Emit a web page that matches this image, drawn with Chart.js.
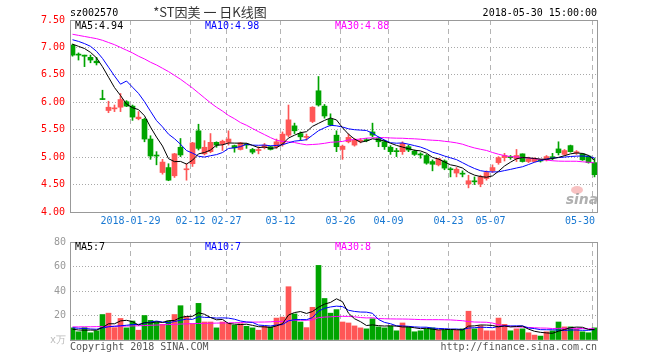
<!DOCTYPE html>
<html><head><meta charset="utf-8">
<script src="https://cdn.jsdelivr.net/npm/chart.js@4.4.1/dist/chart.umd.min.js"></script>
<style>
html,body{margin:0;padding:0;background:#fff;}
#wrap{position:relative;width:660px;height:360px;overflow:hidden;}
.box{position:absolute;left:0;width:660px;}
</style></head><body>
<div id="wrap">
<div class="box" style="top:0;height:232px"><canvas id="c1" width="660" height="232"></canvas></div>
<div class="box" style="top:232px;height:128px"><canvas id="c2" width="660" height="128"></canvas></div>
</div>
<script>
// ---- data ----
const tickIdx = [10,20,26,35,45,53,63,70,87];
const tickLabels = ['2018-01-29','02-12','02-27','03-12','03-26','04-09','04-23','05-07','05-30'];
const priceTicks = [4.0,4.5,5.0,5.5,6.0,6.5,7.0,7.5];
const volTicks = [0,20,40,60,80];

const open = [7.04,6.87,6.86,6.82,6.75,6.06,5.85,5.88,5.91,6.01,
5.93,5.70,5.69,5.33,5.03,4.72,4.81,4.66,5.18,4.77,
4.88,5.48,5.06,5.10,5.27,5.24,5.27,5.21,5.14,5.24,
5.14,5.12,5.18,5.19,5.19,5.24,5.40,5.57,5.43,5.36,
5.65,6.21,5.93,5.69,5.40,5.14,5.28,5.22,5.29,5.31,
5.46,5.34,5.28,5.18,5.11,5.10,5.19,5.11,5.05,5.03,
4.92,4.86,4.93,4.78,4.71,4.70,4.51,4.56,4.51,4.61,
4.75,4.90,4.99,5.01,4.97,5.06,4.92,4.92,4.94,4.95,
5.00,5.15,5.05,5.21,5.08,5.06,5.02,4.90];
const high = [7.06,6.90,6.86,6.86,6.82,6.22,6.02,5.95,6.16,6.03,
5.95,5.83,5.71,5.39,5.10,4.96,4.88,5.07,5.34,4.88,
5.27,5.60,5.30,5.43,5.28,5.31,5.48,5.22,5.27,5.25,
5.16,5.19,5.25,5.20,5.33,5.46,5.95,5.62,5.46,5.42,
5.92,6.47,5.96,5.79,5.48,5.22,5.42,5.34,5.34,5.34,
5.62,5.37,5.31,5.21,5.16,5.28,5.22,5.13,5.08,5.05,
4.95,4.98,4.95,4.81,4.81,4.75,4.67,4.64,4.67,4.75,
4.86,5.01,5.07,5.03,5.14,5.06,5.00,4.99,4.96,5.03,
5.07,5.28,5.14,5.22,5.12,5.07,5.03,4.98];
const low = [6.84,6.77,6.65,6.72,6.68,6.05,5.81,5.83,5.83,5.92,
5.67,5.68,5.28,4.96,4.86,4.69,4.57,4.63,5.01,4.58,
4.83,5.13,5.04,5.08,5.18,5.12,5.22,5.09,5.13,5.16,
5.06,5.06,5.15,5.13,5.16,5.20,5.37,5.43,5.31,5.31,
5.63,5.93,5.71,5.57,5.10,4.96,5.26,5.20,5.26,5.28,
5.37,5.19,5.14,5.05,5.01,5.05,5.10,5.03,4.98,4.87,
4.75,4.84,4.77,4.64,4.64,4.64,4.44,4.50,4.46,4.58,
4.72,4.87,4.93,4.96,4.92,4.91,4.90,4.91,4.91,4.93,
4.95,5.04,5.03,5.09,5.05,4.94,4.89,4.64];
const close = [6.86,6.86,6.84,6.77,6.72,6.05,5.91,5.89,6.05,5.93,
5.73,5.73,5.33,5.02,5.02,4.91,4.58,5.06,5.04,4.78,
5.26,5.16,5.18,5.27,5.22,5.29,5.33,5.17,5.26,5.22,
5.09,5.13,5.22,5.14,5.28,5.42,5.68,5.48,5.37,5.37,
5.91,5.95,5.75,5.59,5.19,5.20,5.36,5.31,5.30,5.30,
5.40,5.28,5.19,5.10,5.10,5.25,5.13,5.05,5.04,4.89,
4.87,4.97,4.80,4.77,4.78,4.69,4.57,4.55,4.64,4.72,
4.81,4.99,5.03,4.99,5.03,4.92,4.97,4.97,4.93,5.01,
4.99,5.08,5.12,5.10,5.09,4.95,4.90,4.68];
const volume = [9.9,6.7,10.1,5.9,7.5,20.8,21.9,10.1,17.6,9.9,
15.5,8.0,20.0,16.0,14.7,12.8,15.5,20.8,28.0,19.2,
13.3,29.9,14.7,14.7,9.9,14.7,13.3,12.0,13.3,11.2,
9.9,8.0,11.2,10.7,17.9,18.7,43.5,21.3,14.7,10.1,
26.7,60.9,33.9,21.9,24.8,14.7,13.9,11.5,9.9,9.1,
17.3,10.7,9.9,11.2,7.5,13.9,10.7,6.7,7.5,9.1,
9.9,8.0,8.0,8.0,8.0,9.1,23.5,9.1,11.7,7.5,
7.5,17.9,12.8,7.5,9.1,9.1,5.9,4.0,3.2,6.7,
7.5,14.7,10.7,10.7,9.1,6.7,5.9,9.9];

// moving-average values at the start of the window (they depend on earlier days)
const ma5Head = [7.06,7.02,6.98,6.91];
const ma10Head = [7.14,7.11,7.07,7.02,6.93,6.80,6.64,6.48,6.33];
const ma30Head = [7.24,7.22,7.20,7.18,7.16,7.13,7.09,7.05,7.00,6.95,6.90,6.84,6.79,6.73,6.68,6.62,6.56,6.49,6.42,6.34,6.26,6.17,6.08,5.99,5.91,5.84,5.76,5.70,5.63];
const vma5Head = [8.8,8.2,8.0,8.1];
const vma10Head = [10.0,9.6,9.4,9.0,8.8,9.8,10.8,11.2,11.6];
const vma30Head = [10.7,10.7,10.8,10.8,10.9,11.0,11.1,11.2,11.3,11.4,11.5,11.6,11.8,12.0,12.2,12.4,12.6,12.8,13.0,13.2,13.4,13.5,13.6,13.7,13.8,13.9,14.0,14.1,14.2];

const priceLegend = ['MA5:4.94','MA10:4.98','MA30:4.88'];
const volLegend = ['MA5:7','MA10:7','MA30:8'];

// ---- helpers ----
function ma(src, n, head){
  return src.map((v,i)=>{
    if(i < n-1) return head[i];
    let s=0; for(let k=i-n+1;k<=i;k++) s+=src[k];
    return s/n;
  });
}
const N = close.length;
const idx = close.map((_,i)=>i);
const RED = '#ff5656', GREEN = '#00a400';
const cols = idx.map(i => close[i] >= open[i] ? RED : GREEN);
const LINE_COLS = ['#000000','#0000ff','#ff00ff'];
const mono = '"DejaVu Sans Mono","Liberation Mono",monospace';
const F10 = '10px ' + mono;

function lineDs(arr, color){
  return {type:'line', data: idx.map(i=>({x:i,y:arr[i]})), borderColor:color, borderWidth:1,
          pointRadius:0, tension:0, fill:false};
}
function txt(ctx, s, x, y, color, align, font){
  ctx.save(); ctx.font = font || F10; ctx.fillStyle = color; ctx.textAlign = align || 'left';
  ctx.textBaseline = 'middle'; ctx.fillText(s, x, y); ctx.restore();
}
function xScaleOpts(){
  return {type:'linear', min:-5/12, max:N-1+5/12, offset:false,
    afterBuildTicks: s => { s.ticks = tickIdx.map(i => ({value: i - 1/3})); },
    ticks:{display:false},
    grid:{color:'#b4b4b4', drawTicks:false, offset:false},
    border:{display:false, dash:[5,4]},
    afterFit: s => { s.height = 20; }};
}
function frame(chart){
  const {ctx, chartArea:a} = chart;
  ctx.save(); ctx.strokeStyle='#999'; ctx.lineWidth=1;
  ctx.strokeRect(a.left+0.5, a.top+0.5, a.right-a.left, a.bottom-a.top);
  ctx.restore();
}

// ---- price chart ----
new Chart(document.getElementById('c1'), {
  type:'bar',
  data:{ datasets:[
    lineDs(ma(close,5,ma5Head), LINE_COLS[0]),
    lineDs(ma(close,10,ma10Head), LINE_COLS[1]),
    lineDs(ma(close,30,ma30Head), LINE_COLS[2]),
    {type:'bar', data: idx.map(i=>({x:i, y:[open[i], close[i]]})), backgroundColor: cols,
     barThickness:5, minBarLength:1, grouped:false},
    {type:'bar', data: idx.map(i=>({x:i, y:[low[i], high[i]]})), backgroundColor: cols,
     barThickness:1, minBarLength:1, grouped:false}
  ]},
  options:{
    responsive:false, animation:false, events:[],
    layout:{padding:{top:20,right:63,left:0,bottom:0}},
    plugins:{legend:{display:false}, tooltip:{enabled:false}},
    scales:{
      x: xScaleOpts(),
      y:{min:4, max:7.5,
        afterBuildTicks: s => { s.ticks = priceTicks.map(v=>({value:v})); },
        ticks:{color:'#ff0000', font:{family:mono, size:10}, padding:5, callback: v => Number(v).toFixed(2)},
        grid:{drawTicks:false, color: c => (c.tick && (c.tick.value===4 || c.tick.value===7.5)) ? 'rgba(0,0,0,0)' : '#a8a8a8'},
        border:{display:false, dash:[1,2]},
        afterFit: s => { s.width = 70; }}
    }
  },
  plugins:[{id:'deco1', afterDraw(chart){
    const {ctx, chartArea:a, scales} = chart;
    frame(chart);
    txt(ctx,'sz002570',a.left,13,'#000');
    txt(ctx,'*ST因美 一 日K线图',210,12,'#333','center','13px "Noto Sans CJK SC", sans-serif');
    txt(ctx,'2018-05-30 15:00:00',a.right,13,'#000','right');
    txt(ctx,priceLegend[0],75,26,LINE_COLS[0]);
    txt(ctx,priceLegend[1],205,26,LINE_COLS[1]);
    txt(ctx,priceLegend[2],335,26,LINE_COLS[2]);
    ctx.save(); ctx.font = F10;
    tickIdx.forEach((ti,k)=>{
      const px = scales.x.getPixelForValue(ti - 1/3);
      const w = ctx.measureText(tickLabels[k]).width;
      const x0 = Math.min(px - w/2, a.right - w - 2);
      txt(ctx, tickLabels[k], x0, 221, '#1878d2');
    });
    ctx.restore();
    // sina watermark
    ctx.save();
    ctx.fillStyle='rgba(240,120,120,0.45)';
    ctx.beginPath(); ctx.ellipse(577,190,6,4,0,0,Math.PI*2); ctx.fill();
    ctx.restore();
    txt(ctx,'sina',582,200,'rgba(150,150,150,0.75)','center','italic bold 14px "DejaVu Sans", sans-serif');
  }}]
});

// ---- volume chart ----
new Chart(document.getElementById('c2'), {
  type:'bar',
  data:{ datasets:[
    lineDs(ma(volume,5,vma5Head), LINE_COLS[0]),
    lineDs(ma(volume,10,vma10Head), LINE_COLS[1]),
    lineDs(ma(volume,30,vma30Head), LINE_COLS[2]),
    {type:'bar', data: idx.map(i=>({x:i, y:volume[i]})), backgroundColor: cols,
     barThickness:5, grouped:false}
  ]},
  options:{
    responsive:false, animation:false, events:[],
    layout:{padding:{top:8,right:63,left:0,bottom:0}},
    plugins:{legend:{display:false}, tooltip:{enabled:false}},
    scales:{
      x: xScaleOpts(),
      y:{min:0, max:80,
        afterBuildTicks: s => { s.ticks = volTicks.map(v=>({value:v})); },
        ticks:{color: c => (c.tick && c.tick.value===0) ? '#bbbbbb' : '#999999',
               font:{family:mono, size:10}, padding:4,
               callback: v => v===0 ? 'x万' : String(v)},
        grid:{drawTicks:false, color: c => (c.tick && (c.tick.value===0 || c.tick.value===80)) ? 'rgba(0,0,0,0)' : '#a8a8a8'},
        border:{display:false, dash:[1,2]},
        afterFit: s => { s.width = 70; }}
    }
  },
  plugins:[{id:'deco2', afterDraw(chart){
    const {ctx, chartArea:a} = chart;
    frame(chart);
    txt(ctx,volLegend[0],75,15,LINE_COLS[0]);
    txt(ctx,volLegend[1],205,15,LINE_COLS[1]);
    txt(ctx,volLegend[2],335,15,LINE_COLS[2]);
    txt(ctx,'Copyright 2018 SINA.COM',a.left,115,'#555');
    txt(ctx,'http://finance.sina.com.cn',a.right,115,'#555','right');
  }}]
});
</script>
</body></html>
